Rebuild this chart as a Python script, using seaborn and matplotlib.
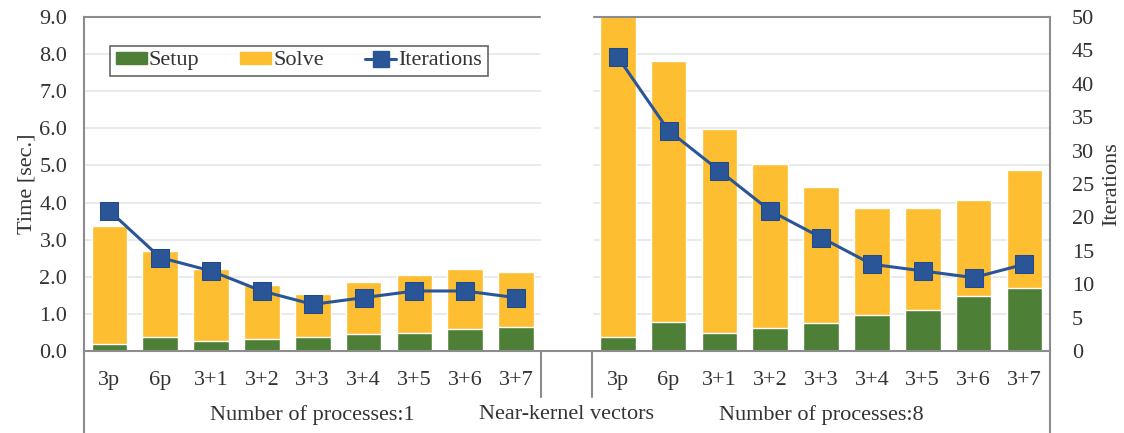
import pandas as pd
import matplotlib
matplotlib.use("Agg")
import matplotlib.pyplot as plt
from matplotlib.patches import Patch
from matplotlib.lines import Line2D
import seaborn as sns

# data
vectors = ["3p", "6p", "3+1", "3+2", "3+3", "3+4", "3+5", "3+6", "3+7"]
setup_p1 = [0.20, 0.38, 0.28, 0.32, 0.38, 0.46, 0.49, 0.59, 0.65]
total_p1 = [3.36, 2.70, 2.20, 1.79, 1.53, 1.85, 2.06, 2.20, 2.12]
iters_p1 = [21, 14, 12, 9, 7, 8, 9, 9, 8]
setup_p8 = [0.38, 0.79, 0.49, 0.63, 0.76, 0.97, 1.12, 1.48, 1.71]
total_p8 = [9.40, 7.82, 5.97, 5.05, 4.42, 3.85, 3.85, 4.08, 4.87]
iters_p8 = [44, 33, 27, 21, 17, 13, 12, 11, 13]
group_labels = ["Number of processes:1", "Near-kernel vectors", "Number of processes:8"]

GREEN = "#4E7F37"
YELLOW = "#FDBE31"
BLUE = "#2A5597"
TXT = "#333333"
FS = 16

rows = []
for g, setup, total, its in [("1", setup_p1, total_p1, iters_p1), ("8", setup_p8, total_p8, iters_p8)]:
    for v, s, t, i in zip(vectors, setup, total, its):
        rows.append({"group": g, "vec": v, "slot": g + ":" + v, "Setup": s, "Total": t, "Iterations": i})
df = pd.DataFrame(rows)

order = ["1:" + v for v in vectors] + ["gap"] + ["8:" + v for v in vectors]
df["pos"] = df["slot"].map(order.index)

sns.set_style("white")
plt.rcParams["font.family"] = ["Liberation Serif", "DejaVu Serif"]
plt.rcParams["text.color"] = TXT

fig, ax = plt.subplots(figsize=(11.24, 4.33), dpi=100)
fig.subplots_adjust(left=0.0747, right=0.934, top=0.961, bottom=0.189)

sns.barplot(data=df, x="slot", y="Total", order=order, color=YELLOW, saturation=1,
            width=0.7, ax=ax, zorder=2)
sns.barplot(data=df, x="slot", y="Setup", order=order, color=GREEN, saturation=1,
            width=0.7, ax=ax, zorder=2)

ax.set_ylim(0, 9)
ax.set_xlim(-0.5, len(order) - 0.5)
ax.set_yticks([i * 1.0 for i in range(10)])
ax.set_yticklabels([f"{i:.1f}" for i in range(10)])
ax.yaxis.grid(True, color="#E6E6E6", linewidth=1.2, zorder=0)
ax.set_axisbelow(True)
ax.set_xticks(range(len(order)))
ax.set_xticklabels([s.split(":")[-1] if s != "gap" else "" for s in order])
ax.tick_params(axis="x", length=0, pad=14, labelsize=FS, labelcolor=TXT)
ax.tick_params(axis="y", length=0, pad=12, labelsize=FS, labelcolor=TXT)
ax.set_xlabel("")
ax.set_ylabel("Time [sec.]", fontsize=FS, color=TXT, labelpad=2)

for side in ["left", "top", "bottom"]:
    ax.spines[side].set_color("#8C8C8C")
    ax.spines[side].set_linewidth(1.5)
ax.spines["right"].set_visible(False)
ax.spines["bottom"].set_zorder(5)
ax.spines["top"].set_zorder(2)

# blank out the empty middle slot (gridlines and top border)
gap = order.index("gap")
ax.axvspan(gap - 0.5, gap + 0.5, ymin=0.004, ymax=1.02, color="white", zorder=3, clip_on=False)

# category axis separators and group labels
for x in [gap - 0.5, gap + 0.5]:
    ax.axvline(x, ymin=-0.138, ymax=0, color="#8C8C8C", linewidth=1.5, clip_on=False)
for x in [-0.5, len(order) - 0.5]:
    ax.axvline(x, ymin=-0.25, ymax=0, color="#8C8C8C", linewidth=1.5, clip_on=False)
centers = [(len(vectors) - 1) / 2, gap, gap + 1 + (len(vectors) - 1) / 2]
for c, lab in zip(centers, group_labels):
    ax.text(c, -0.19, lab, transform=ax.get_xaxis_transform(), ha="center", va="center",
            fontsize=FS, color=TXT)

# iterations on the secondary axis
ax2 = ax.twinx()
sns.lineplot(data=df, x="pos", y="Iterations", units="group", estimator=None, ax=ax2,
             color=BLUE, linewidth=2.2, marker="s", markersize=13,
             markeredgecolor="#214A8A", markerfacecolor=BLUE, zorder=4)
ax2.set_ylim(0, 50)
ax2.set_xlim(-0.5, len(order) - 0.5)
ax2.set_yticks(range(0, 51, 5))
ax2.tick_params(axis="y", length=0, pad=16, labelsize=FS, labelcolor=TXT)
ax2.set_ylabel("Iterations", fontsize=FS, color=TXT, labelpad=6)
for side in ["left", "top", "bottom"]:
    ax2.spines[side].set_visible(False)
ax2.spines["right"].set_color("#8C8C8C")
ax2.spines["right"].set_linewidth(1.5)

handles = [Patch(color=GREEN), Patch(color=YELLOW),
           Line2D([], [], color=BLUE, linewidth=2.2, marker="s", markersize=11)]
leg = ax2.legend(handles, ["Setup", "Solve", "Iterations"], ncol=3, mode="expand",
                 loc="lower left", bbox_to_anchor=(0.027, 0.823, 0.391, 0.108),
                 frameon=True, fancybox=False, fontsize=FS, handlelength=1.4,
                 handleheight=0.45, handletextpad=0.1, borderaxespad=0, borderpad=0.25)
leg.get_frame().set_edgecolor("#404040")
leg.get_frame().set_linewidth(1.2)

fig.savefig("out.png", dpi=100)
